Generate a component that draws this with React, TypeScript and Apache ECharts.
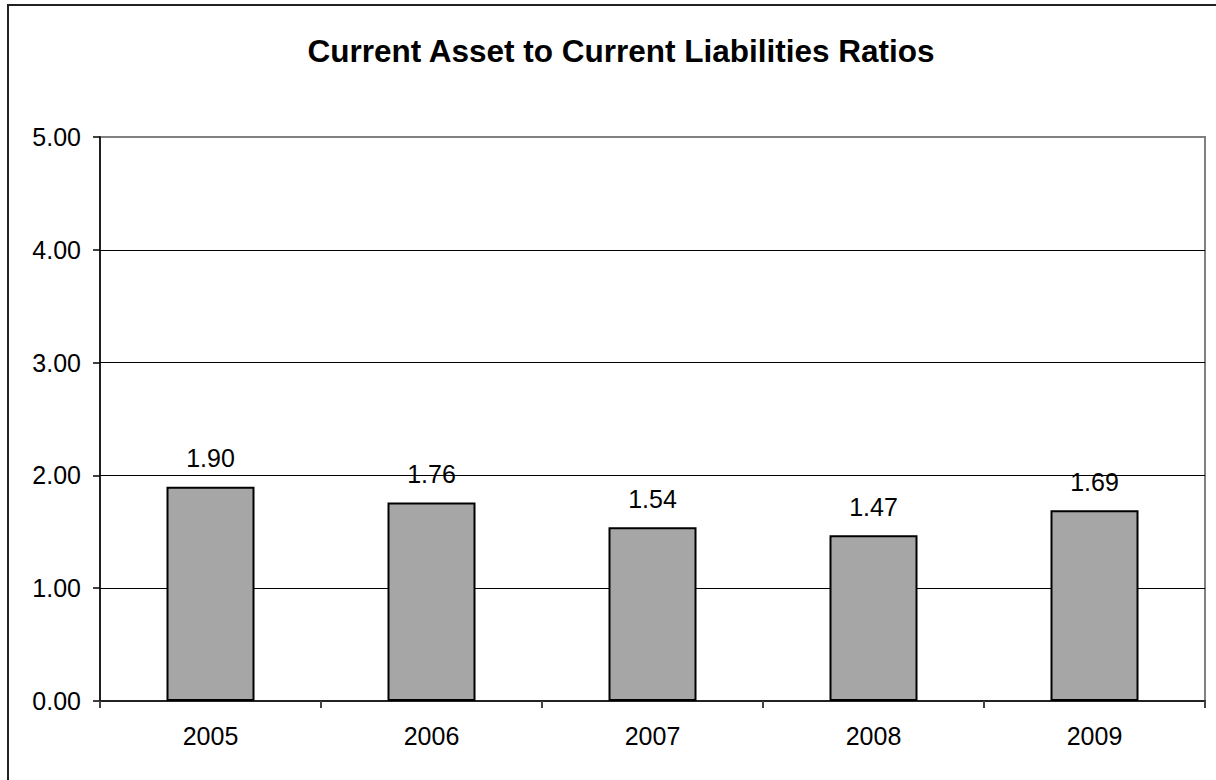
import React, { useEffect, useRef } from "react";
import * as echarts from "echarts";

const categories = ["2005", "2006", "2007", "2008", "2009"];
const ratios = [1.9, 1.76, 1.54, 1.47, 1.69];
const yMin = 0;
const yMax = 5;
const yStep = 1;
const titleText = "Current Asset to Current Liabilities Ratios";

export default function App() {
  const ref = useRef<HTMLDivElement>(null);
  useEffect(() => {
    document.body.style.margin = "0";
    document.body.style.overflow = "hidden";
    const chart = echarts.init(ref.current!, null, { renderer: "svg" });
    const font = "'Liberation Sans', Arial, sans-serif";
    chart.setOption({
      animation: false,
      backgroundColor: "#ffffff",
      textStyle: { fontFamily: font },
      title: {
        text: titleText,
        left: 616,
        textAlign: "center",
        top: 30,
        textStyle: { fontFamily: font, fontSize: 31.5, fontWeight: "bold", color: "#000" },
      },
      graphic: [
        {
          type: "rect",
          shape: { x: 8, y: 5, width: 1230, height: 800 },
          style: { fill: "none", stroke: "#222", lineWidth: 2 },
          silent: true,
        },
      ],
      grid: {
        left: 100,
        top: 137,
        right: 11,
        bottom: 79,
        show: true,
        borderColor: "#808080",
        borderWidth: 2,
        backgroundColor: "transparent",
      },
      xAxis: {
        type: "category",
        data: categories,
        axisLine: { show: true, lineStyle: { color: "#222", width: 2 } },
        axisTick: { show: true, alignWithLabel: false, interval: 0, length: 7, lineStyle: { color: "#444", width: 2 } },
        axisLabel: { color: "#000", fontSize: 25, margin: 22, fontFamily: font },
        splitLine: { show: false },
      },
      yAxis: {
        type: "value",
        min: yMin,
        max: yMax,
        interval: yStep,
        axisLine: { show: true, lineStyle: { color: "#000", width: 1.5 } },
        axisTick: { show: true, length: 7, lineStyle: { color: "#000", width: 1.5 } },
        axisLabel: {
          color: "#000",
          fontSize: 25,
          margin: 19,
          fontFamily: font,
          formatter: (v: number) => v.toFixed(2),
        },
        splitLine: {
          show: true,
          lineStyle: { color: ["#000", "#000", "#000", "#000", "#000", "#808080"], width: 1 },
        },
      },
      series: [
        {
          type: "bar",
          data: ratios,
          barWidth: 88,
          itemStyle: { color: "#a6a6a6", borderColor: "#000", borderWidth: 2 },
          label: {
            show: true,
            position: "top",
            distance: 16,
            color: "#000",
            fontSize: 25,
            fontFamily: font,
            formatter: (p: any) => Number(p.value).toFixed(2),
          },
        },
      ],
    });
    return () => chart.dispose();
  }, []);
  return <div ref={ref} style={{ width: 1216, height: 780 }} />;
}
